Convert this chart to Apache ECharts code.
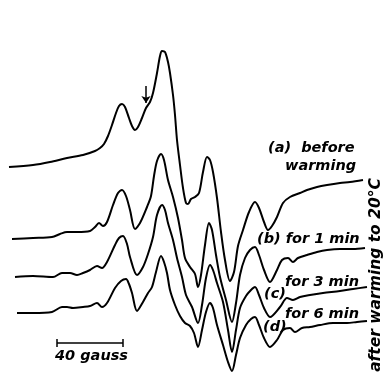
<!DOCTYPE html>
<html>
<head>
<meta charset="utf-8">
<script src="https://cdn.jsdelivr.net/npm/echarts@6/dist/echarts.min.js"></script>
<style>
html,body{margin:0;padding:0;background:#fff;}
#chart{width:386px;height:372px;}
</style>
</head>
<body>
<div id="chart"></div>
<script>
// Field position (x, as read) and trace position (y, as read, increasing downward)
var traceA = [[9,167],[33,165],[50,162],[67,158],[83,155],[95,151],[100,148],[104,144],[108,136],[112,125],[116,113],[119,106],[122,104],[125,107],[129,118],[132,126],[135,130],[138,127],[142,118],[146,108],[150,102],[153,93],[157,73],[160,56],[162,51],[165,52],[168,62],[170,73],[173,95],[175,115],[177,140],[180,165],[183,188],[186,203],[188,204],[191,199],[195,197],[199,193],[203,172],[207,157],[210,160],[213,172],[217,198],[221,232],[225,260],[230,281],[234,272],[238,246],[243,230],[249,212],[255,202],[259,208],[264,222],[268,230],[272,226],[277,217],[283,203],[290,197],[300,193],[307,190],[317,187],[327,185],[340,183],[350,182],[363,180]];
var traceB = [[12,239],[33,238],[52,237],[60,234],[67,232],[77,232],[90,231],[95,227],[99,223],[103,226],[107,222],[113,205],[118,193],[122,190],[126,196],[130,210],[135,229],[140,223],[147,207],[151,196],[154,176],[157,161],[161,154],[164,160],[168,180],[173,197],[178,218],[182,240],[185,258],[190,267],[195,274],[198,287],[201,275],[205,245],[209,223],[212,230],[216,255],[220,277],[226,300],[232,322],[236,303],[240,275],[245,258],[250,250],[255,247],[259,255],[264,270],[270,282],[277,270],[282,260],[288,258],[293,262],[298,258],[307,255],[317,252],[327,250],[340,249],[353,249],[365,248]];
var traceC = [[15,277],[33,276],[53,277],[62,273],[70,273],[77,275],[83,273],[90,270],[97,266],[102,268],[107,262],[115,245],[119,238],[123,236],[127,244],[130,257],[137,275],[143,267],[148,254],[153,237],[157,215],[162,205],[165,210],[168,223],[173,240],[177,258],[182,277],[186,295],[192,307],[198,323],[202,305],[206,278],[210,265],[213,270],[217,283],[223,302],[228,330],[232,352],[236,330],[240,308],[246,296],[251,290],[255,287],[259,295],[264,308],[270,317],[280,307],[287,298],[293,300],[300,297],[310,295],[323,293],[340,291],[353,289],[367,287]];
var traceD = [[17,313],[33,313],[52,312],[62,307],[67,307],[73,308],[83,307],[90,306],[97,303],[102,307],[107,303],[115,288],[121,281],[126,279],[129,284],[132,293],[137,311],[143,302],[148,293],[152,287],[156,272],[161,256],[164,262],[167,273],[170,290],[175,305],[180,316],[185,323],[190,326],[194,333],[198,347],[202,330],[206,312],[210,303],[213,308],[217,325],[223,345],[228,362],[232,371],[236,355],[240,338],[246,325],[251,319],[255,317],[259,325],[264,338],[270,347],[277,340],[283,330],[290,328],[295,332],[302,328],[310,327],[320,325],[333,323],[347,323],[357,322],[367,321]];
var arrowMark = [[146,86],[146,103]];
var scaleBar = [[57,343],[123,343]];
var scaleTick = 4;
var labels = [
  {text:'(a)  before', x:268, y:148},
  {text:'warming', x:285, y:166},
  {text:'(b) for 1 min', x:257, y:239},
  {text:'for 3 min', x:285, y:282},
  {text:'(c)', x:264, y:294},
  {text:'for 6 min', x:285, y:314},
  {text:'(d)', x:263, y:327},
  {text:'40 gauss', x:55, y:356}
];
var sideLabel = 'after warming to 20°C';

var chart = echarts.init(document.getElementById('chart'));
var FONT = '"DejaVu Sans", sans-serif';
function traceSeries(d) {
  return {type:'line', data:d, smooth:0.3, symbol:'none', lineStyle:{color:'#000', width:2}, z:2};
}
var series = [traceSeries(traceA), traceSeries(traceB), traceSeries(traceC), traceSeries(traceD)];
series[0].markLine = {
  silent:true, animation:false, symbolSize:7,
  lineStyle:{color:'#000', width:1.5, type:'solid'},
  label:{show:false},
  data:[[{coord:arrowMark[0], symbol:'none'},{coord:arrowMark[1], symbol:'arrow'}]]
};
series.push({
  type:'line', data:[], symbol:'none',
  markLine:{
    silent:true, animation:false, symbol:'none',
    lineStyle:{color:'#000', width:1.5, type:'solid'},
    label:{show:false},
    data:[
      [{coord:scaleBar[0]},{coord:scaleBar[1]}],
      [{coord:[scaleBar[0][0], scaleBar[0][1]-scaleTick]},{coord:[scaleBar[0][0], scaleBar[0][1]+scaleTick]}],
      [{coord:[scaleBar[1][0], scaleBar[1][1]-scaleTick]},{coord:[scaleBar[1][0], scaleBar[1][1]+scaleTick]}]
    ]
  }
});
var graphics = labels.map(function(l){
  return {type:'text', x:l.x, y:l.y, style:{text:l.text, fill:'#000', font:'italic bold 14.5px '+FONT, textAlign:'left', textVerticalAlign:'middle'}};
});
graphics.push({type:'text', x:376, y:275, rotation:Math.PI/2,
  style:{text:sideLabel, fill:'#000', font:'italic bold 15.5px '+FONT, textAlign:'center', textVerticalAlign:'middle'}});

chart.setOption({
  animation:false,
  backgroundColor:'#fff',
  grid:{left:0, right:0, top:0, bottom:0},
  xAxis:{type:'value', min:0, max:386, show:false},
  yAxis:{type:'value', min:0, max:372, inverse:true, show:false},
  series:series,
  graphic:graphics
});
</script>
</body>
</html>
